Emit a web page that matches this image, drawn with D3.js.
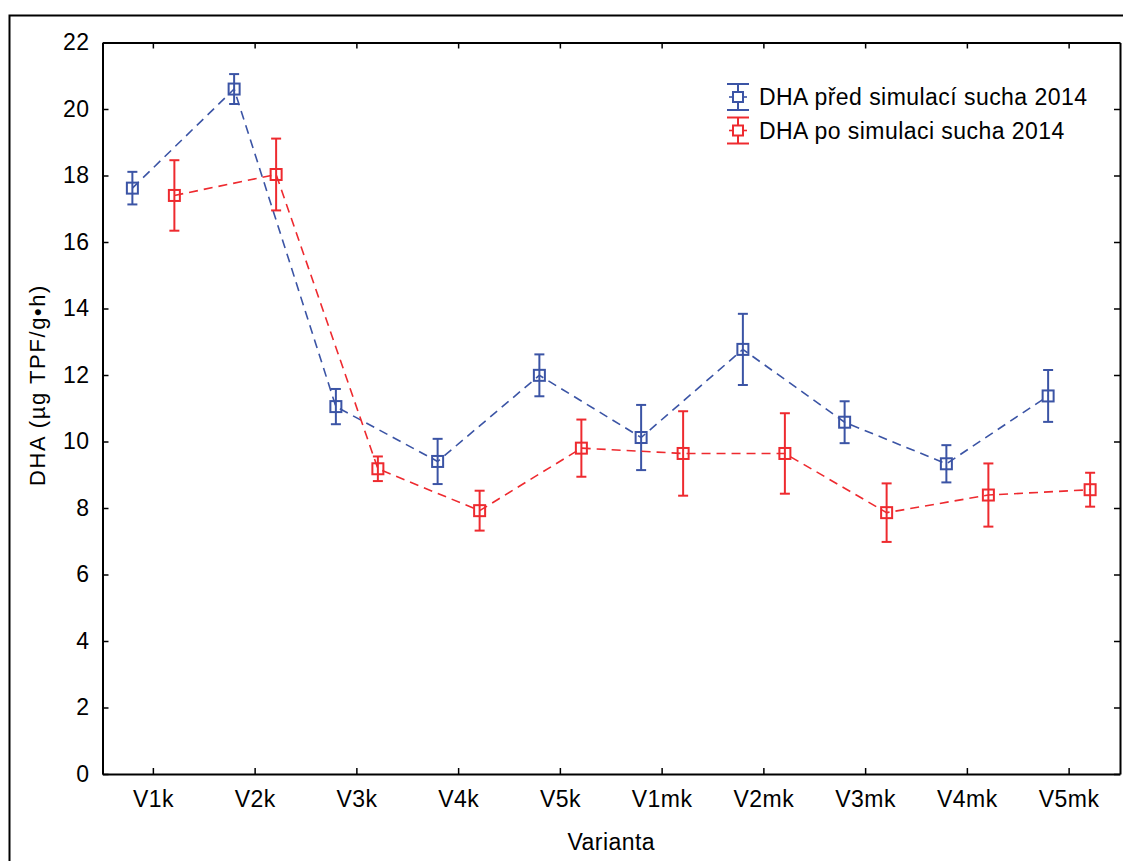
<!DOCTYPE html>
<html>
<head>
<meta charset="utf-8">
<script src="https://cdn.jsdelivr.net/npm/d3@7"></script>
<style>
  html, body { margin: 0; padding: 0; background: #fff; }
  svg { display: block; }
  text { font-family: "Liberation Sans", Arial, Helvetica, sans-serif; fill: #000; }
</style>
</head>
<body>
<svg id="chart" width="1123" height="861"></svg>
<script>
// Variants on the x axis
const categories = ["V1k", "V2k", "V3k", "V4k", "V5k", "V1mk", "V2mk", "V3mk", "V4mk", "V5mk"];

// Series names
const seriesNames = ["DHA před simulací sucha 2014", "DHA po simulaci sucha 2014"];

// Means and error half-widths, before drought simulation
const beforeMean = [17.62, 20.60, 11.05, 9.40, 11.99, 10.12, 12.77, 10.58, 9.33, 11.37];
const beforeErr  = [0.49, 0.45, 0.53, 0.68, 0.63, 0.98, 1.07, 0.63, 0.56, 0.78];

// Means and error half-widths, after drought simulation
const afterMean = [17.40, 18.03, 9.18, 7.92, 9.80, 9.64, 9.64, 7.86, 8.39, 8.55];
const afterErr  = [1.06, 1.08, 0.37, 0.60, 0.86, 1.27, 1.21, 0.88, 0.95, 0.51];

// Y axis ticks
const yTicks = [0, 2, 4, 6, 8, 10, 12, 14, 16, 18, 20, 22];

const colors = ["#3b54a5", "#ee2a2f"];
const offsets = [-21, 21];

const svg = d3.select("#chart");
const margin = { left: 102.5, right: 3, top: 42.5, bottom: 87 };
const W = 1123, H = 861;
const x0 = margin.left, x1 = W - margin.right;
const y0 = H - margin.bottom, y1 = margin.top;
const FS = 23, LS = 0.45;

// Outer frame
svg.append("rect")
  .attr("x", 9.5).attr("y", 15.5)
  .attr("width", 1130).attr("height", 900)
  .attr("fill", "none").attr("stroke", "#000").attr("stroke-width", 2);

const x = d3.scaleBand().domain(categories).range([x0, x1]).paddingInner(0).paddingOuter(0);
const y = d3.scaleLinear().domain([0, 22]).range([y0, y1]);
const cx = c => x(c) + x.bandwidth() / 2;

// Axes with mirrored inward ticks
const tickLen = 6;
const axisBottom = d3.axisBottom(x).tickSizeInner(-tickLen).tickSizeOuter(0).tickPadding(17);
const axisTop = d3.axisTop(x).tickSizeInner(-tickLen).tickSizeOuter(0).tickFormat("");
const axisLeft = d3.axisLeft(y).tickValues(yTicks).tickSizeInner(-tickLen).tickSizeOuter(0).tickPadding(13);
const axisRight = d3.axisRight(y).tickValues(yTicks).tickSizeInner(-tickLen).tickSizeOuter(0).tickFormat("");

function styleAxis(g) {
  g.selectAll("path.domain").attr("stroke", "#000").attr("stroke-width", 2);
  g.selectAll(".tick line").attr("stroke", "#000").attr("stroke-width", 1.5);
  g.selectAll(".tick text").attr("font-size", FS).attr("letter-spacing", LS)
    .attr("font-family", "'Liberation Sans', Arial, sans-serif").attr("fill", "#000");
}

svg.append("g").attr("transform", `translate(0,${y0})`).call(axisBottom).call(styleAxis);
svg.append("g").attr("transform", `translate(0,${y1})`).call(axisTop).call(styleAxis);
svg.append("g").attr("transform", `translate(${x0},0)`).call(axisLeft).call(styleAxis);
svg.append("g").attr("transform", `translate(${x1},0)`).call(axisRight).call(styleAxis);

// Axis titles
svg.append("text")
  .attr("x", (x0 + x1) / 2).attr("y", 850)
  .attr("text-anchor", "middle").attr("font-size", FS).attr("letter-spacing", LS)
  .text("Varianta");

svg.append("text")
  .attr("transform", `translate(45,${385}) rotate(-90)`)
  .attr("text-anchor", "middle").attr("font-size", 22).attr("letter-spacing", 1.6)
  .text("DHA (µg TPF/g•h)");

// Series
const series = [
  { mean: beforeMean, err: beforeErr },
  { mean: afterMean, err: afterErr }
];

const line = d3.line().x(d => d.px).y(d => y(d.v));
const capW = 5, sq = 11;

series.forEach((s, i) => {
  const pts = categories.map((c, k) => ({ px: cx(c) + offsets[i], v: s.mean[k], e: s.err[k] }));
  const g = svg.append("g");

  g.append("path").datum(pts)
    .attr("d", line)
    .attr("fill", "none")
    .attr("stroke", colors[i])
    .attr("stroke-width", 1.6)
    .attr("stroke-dasharray", "9,6");

  const eb = g.selectAll("g.eb").data(pts).join("g").attr("class", "eb");
  eb.append("line")
    .attr("x1", d => d.px).attr("x2", d => d.px)
    .attr("y1", d => y(d.v + d.e)).attr("y2", d => y(d.v - d.e))
    .attr("stroke", colors[i]).attr("stroke-width", 2);
  eb.append("line")
    .attr("x1", d => d.px - capW).attr("x2", d => d.px + capW)
    .attr("y1", d => y(d.v + d.e)).attr("y2", d => y(d.v + d.e))
    .attr("stroke", colors[i]).attr("stroke-width", 2);
  eb.append("line")
    .attr("x1", d => d.px - capW).attr("x2", d => d.px + capW)
    .attr("y1", d => y(d.v - d.e)).attr("y2", d => y(d.v - d.e))
    .attr("stroke", colors[i]).attr("stroke-width", 2);
  eb.append("rect")
    .attr("x", d => d.px - sq / 2).attr("y", d => y(d.v) - sq / 2)
    .attr("width", sq).attr("height", sq)
    .attr("fill", "none")
    .attr("stroke", colors[i]).attr("stroke-width", 2);
});

// Legend
const legend = svg.append("g");
seriesNames.forEach((name, i) => {
  const ly = 97 + i * 33.5, lx = 738;
  const g = legend.append("g");
  g.append("line").attr("x1", lx).attr("x2", lx).attr("y1", ly - 13).attr("y2", ly + 13)
    .attr("stroke", colors[i]).attr("stroke-width", 2);
  g.append("line").attr("x1", lx - 11).attr("x2", lx + 11).attr("y1", ly - 13).attr("y2", ly - 13)
    .attr("stroke", colors[i]).attr("stroke-width", 2);
  g.append("line").attr("x1", lx - 11).attr("x2", lx + 11).attr("y1", ly + 13).attr("y2", ly + 13)
    .attr("stroke", colors[i]).attr("stroke-width", 2);
  g.append("line").attr("x1", lx - 9).attr("x2", lx + 9).attr("y1", ly).attr("y2", ly)
    .attr("stroke", colors[i]).attr("stroke-width", 1.6);
  g.append("rect").attr("x", lx - 5).attr("y", ly - 5).attr("width", 10).attr("height", 10)
    .attr("fill", "#fff").attr("stroke", colors[i]).attr("stroke-width", 2);
  g.append("text").attr("x", 759).attr("y", ly + 8).attr("font-size", FS).attr("letter-spacing", LS).text(name);
});
</script>
</body>
</html>
